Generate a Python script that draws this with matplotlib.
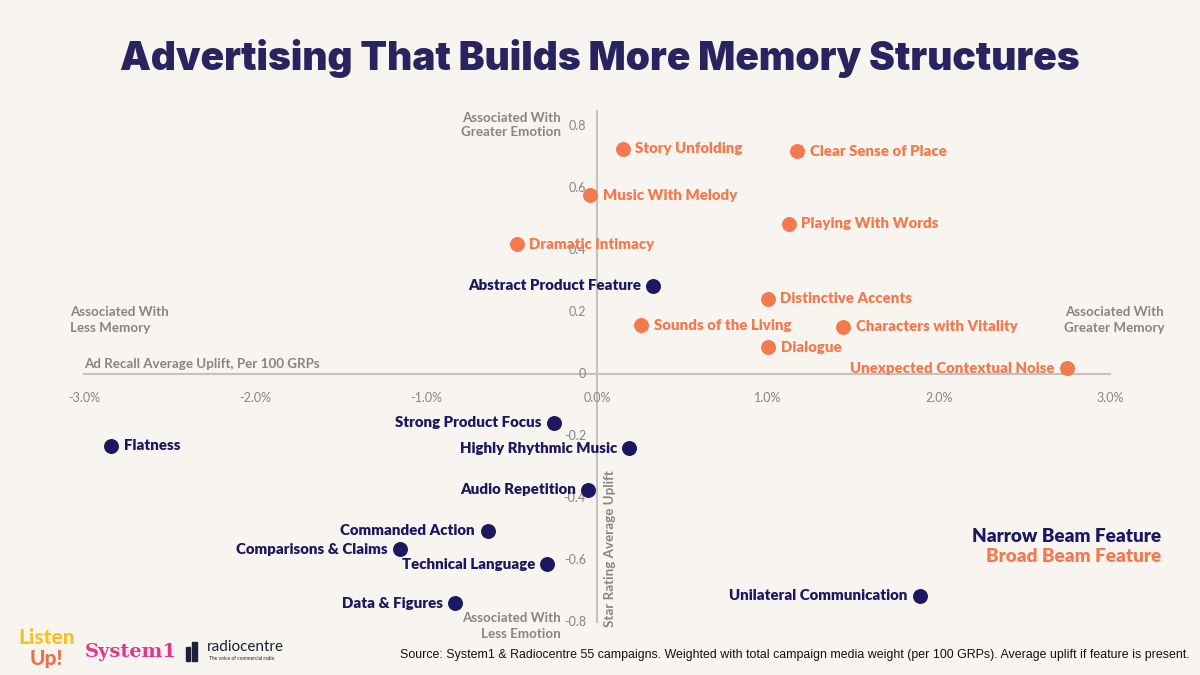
import matplotlib.pyplot as plt
import numpy as np

# broad beam (orange) features
broad_names = ["Story Unfolding", "Clear Sense of Place", "Music With Melody", "Playing With Words",
               "Dramatic Intimacy", "Distinctive Accents", "Sounds of the Living",
               "Characters with Vitality", "Dialogue", "Unexpected Contextual Noise"]
broad_x = [0.15, 1.17, -0.04, 1.12, -0.47, 1.0, 0.26, 1.44, 1.0, 2.75]
broad_y = [0.726, 0.719, 0.577, 0.484, 0.419, 0.242, 0.158, 0.152, 0.087, 0.019]

# narrow beam (navy) features
narrow_names = ["Abstract Product Feature", "Flatness", "Strong Product Focus", "Highly Rhythmic Music",
                "Audio Repetition", "Commanded Action", "Comparisons & Claims", "Technical Language",
                "Data & Figures", "Unilateral Communication"]
narrow_x = [0.33, -2.84, -0.25, 0.19, -0.05, -0.64, -1.15, -0.29, -0.83, 1.89]
narrow_y = [0.284, -0.232, -0.158, -0.239, -0.374, -0.506, -0.565, -0.613, -0.739, -0.716]

xticks = [-3.0, -2.0, -1.0, 0.0, 1.0, 2.0, 3.0]
yticks = [0.8, 0.6, 0.4, 0.2, 0, -0.2, -0.4, -0.6, -0.8]

BG = "#f8f5f0"
NAVY = "#1b1760"
ORANGE = "#f37a4e"
GREY = "#858585"
FONT = "Lato"

fig = plt.figure(figsize=(12, 6.75), dpi=100, facecolor=BG)
ax = fig.add_axes([84 / 1200, 53 / 675, 1026 / 1200, 496 / 675])
ax.set_facecolor(BG)
ax.set_xlim(-3.0, 3.0)
ax.set_ylim(-0.8, 0.8)
ax.axis("off")

# axis lines
ax.plot([-3.0, 3.0], [0, 0], color="#c4c2bf", lw=1.5, clip_on=False, zorder=1)
ax.plot([0, 0], [-0.8, 0.85], color="#c4c2bf", lw=1.5, clip_on=False, zorder=1)

# ticks
for t in xticks:
    ax.annotate(f"{t:.1f}%", (t, 0), xytext=(0, -17), textcoords="offset points",
                ha="center", va="center", fontsize=9, color=GREY, family=FONT)
for t in yticks:
    lab = "0" if t == 0 else f"{t:.1f}"
    ax.annotate(lab, (0, t), xytext=(-8, 0), textcoords="offset points",
                ha="right", va="center", fontsize=9, color=GREY, family=FONT)

# points
ax.scatter(broad_x, broad_y, s=95, color=ORANGE, zorder=3, clip_on=False)
ax.scatter(narrow_x, narrow_y, s=95, color=NAVY, zorder=3, clip_on=False)

LSIZE = 10.8
for n, x, y in zip(broad_names, broad_x, broad_y):
    if n == "Unexpected Contextual Noise":
        ax.annotate(n, (x, y), xytext=(-9, 0), textcoords="offset points", ha="right", va="center",
                    fontsize=LSIZE, fontweight="heavy", color=ORANGE, family=FONT, zorder=4)
    else:
        ax.annotate(n, (x, y), xytext=(9, 0), textcoords="offset points", ha="left", va="center",
                    fontsize=LSIZE, fontweight="heavy", color=ORANGE, family=FONT, zorder=4)

for n, x, y in zip(narrow_names, narrow_x, narrow_y):
    if n == "Flatness":
        ax.annotate(n, (x, y), xytext=(9, 0), textcoords="offset points", ha="left", va="center",
                    fontsize=LSIZE, fontweight="heavy", color=NAVY, family=FONT, zorder=4)
    else:
        ax.annotate(n, (x, y), xytext=(-9, 0), textcoords="offset points", ha="right", va="center",
                    fontsize=LSIZE, fontweight="heavy", color=NAVY, family=FONT, zorder=4)

# title
fig.text(0.5, 1 - 58 / 675, "Advertising That Builds More Memory Structures", ha="center", va="center",
         fontsize=28, fontweight=900, color="#29245f", family="Inter")

# axis descriptions
def px(x, y, s, **kw):
    fig.text(x / 1200, 1 - y / 675, s, family=FONT, **kw)

DSIZE = 9.6
px(84, 364, "Ad Recall Average Uplift, Per 100 GRPs", ha="left", va="center", fontsize=DSIZE,
   fontweight="bold", color=GREY)
px(70, 320, "Associated With\nLess Memory", ha="left", va="center", fontsize=DSIZE,
   fontweight="bold", color=GREY, linespacing=1.3)
px(1164, 320, "Associated With\nGreater Memory", ha="right", va="center", fontsize=DSIZE,
   fontweight="bold", color=GREY, linespacing=1.3)
px(561, 125, "Associated With\nGreater Emotion", ha="right", va="center", fontsize=DSIZE,
   fontweight="bold", color=GREY, linespacing=1.3)
px(561, 626, "Associated With\nLess Emotion", ha="right", va="center", fontsize=DSIZE,
   fontweight="bold", color=GREY, linespacing=1.3)
px(610, 627, "Star Rating Average Uplift", ha="center", va="bottom", rotation=90, fontsize=DSIZE,
   fontweight="bold", color=GREY)

# legend
px(1161, 536, "Narrow Beam Feature", ha="right", va="center", fontsize=13.6, fontweight="heavy", color=NAVY)
px(1161, 557, "Broad Beam Feature", ha="right", va="center", fontsize=13.6, fontweight="heavy", color=ORANGE)

# source
fig.text(1190 / 1200, 1 - 655 / 675,
         "Source: System1 & Radiocentre 55 campaigns. Weighted with total campaign media weight (per 100 GRPs). Average uplift if feature is present.",
         ha="right", va="center", fontsize=8.9, color="#111111", family="Liberation Sans")

# logos
px(47, 637, "Listen", ha="center", va="center", fontsize=15, fontweight="black", color="#f6c21c")
px(46, 659, "Up!", ha="center", va="center", fontsize=15, fontweight="black", color="#e8704c")
fig.text(131 / 1200, 1 - 652 / 675, "System1", ha="center", va="center", fontsize=14, fontweight="bold",
         color="#e0378a", family="DejaVu Serif")
fig.patches.append(plt.Rectangle((186 / 1200, 1 - 661 / 675), 4 / 1200, 14 / 675,
                                 transform=fig.transFigure, color="#1c2231"))
fig.patches.append(plt.Rectangle((192 / 1200, 1 - 661 / 675), 5 / 1200, 19 / 675,
                                 transform=fig.transFigure, color="#1c2231"))
px(207, 647, "radiocentre", ha="left", va="center", fontsize=11, color="#1c2231")
px(209, 658, "The voice of commercial radio", ha="left", va="center", fontsize=3.5, color="#1c2231")

fig.savefig("out.png", dpi=100, facecolor=BG)
